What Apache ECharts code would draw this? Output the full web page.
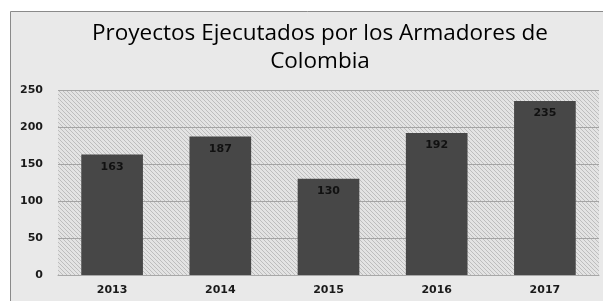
<!DOCTYPE html>
<html><head><meta charset="utf-8">
<script src="https://cdn.jsdelivr.net/npm/echarts@6/dist/echarts.min.js"></script>
<style>html,body{margin:0;padding:0;background:#fff}#c{width:603px;height:301px}</style>
</head><body><div id="c"></div>
<script>
const categories = ['2013','2014','2015','2016','2017'];
const values = [163,187,130,192,235];
const yTicks = [0,50,100,150,200,250];
const titleText = 'Proyectos Ejecutados por los Armadores de\nColombia';

function hatch(){
  const c = document.createElement('canvas');
  c.width = 4; c.height = 4;
  const g = c.getContext('2d');
  g.fillStyle = '#e3e3e3'; g.fillRect(0,0,4,4);
  g.fillStyle = '#bdbdbd';
  for (let i = 0; i < 4; i++) g.fillRect(i, i, 1, 1);
  return c;
}

const chart = echarts.init(document.getElementById('c'));
chart.setOption({
  backgroundColor: '#ffffff',
  animation: false,
  graphic: [{
    type: 'rect', z: -10, silent: true,
    shape: {x: 10.5, y: 11.5, width: 600, height: 300},
    style: {fill: '#e9e9e9', stroke: '#8a8a8a', lineWidth: 1}
  }],
  title: {
    text: titleText, left: 315, top: 15, textAlign: 'center',
    textStyle: {fontFamily: 'Open Sans', fontSize: 22.5, fontWeight: 500, color: '#000', lineHeight: 28}
  },
  grid: {
    left: 58, right: 4, top: 90, bottom: 26, show: true,
    backgroundColor: {image: hatch(), repeat: 'repeat'},
    borderWidth: 0
  },
  xAxis: {
    type: 'category', data: categories,
    axisLine: {lineStyle: {color: '#a8a8a8'}},
    axisTick: {show: false},
    axisLabel: {color: '#1a1a1a', fontWeight: 'bold', fontSize: 11, fontFamily: 'DejaVu Sans', margin: 10}
  },
  yAxis: {
    type: 'value', min: yTicks[0], max: yTicks[yTicks.length-1], interval: 50,
    axisLine: {show: false}, axisTick: {show: false},
    splitLine: {lineStyle: {color: '#a4a4a4'}},
    axisLabel: {color: '#1a1a1a', fontWeight: 'bold', fontSize: 11, fontFamily: 'DejaVu Sans', margin: 15}
  },
  series: [{
    type: 'bar', data: values, barWidth: '57%',
    itemStyle: {color: '#474747'},
    label: {show: true, position: 'insideTop', distance: 7, color: '#111', fontWeight: 'bold', fontSize: 11, fontFamily: 'DejaVu Sans'}
  }]
});
</script></body></html>
